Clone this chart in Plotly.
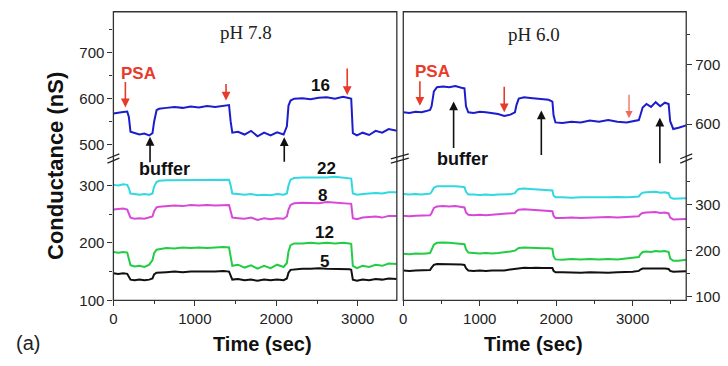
import plotly.graph_objects as go

W, H = 728, 366

# ---------------- data: pH 7.8 panel ----------------
t_left = [0, 60, 120, 170, 190, 210, 260, 320, 380, 440, 480, 500, 530, 560, 650, 750, 850, 950,
          1050, 1150, 1250, 1350, 1420, 1440, 1460, 1530, 1610, 1690, 1770, 1850, 1930, 2010, 2090,
          2130, 2150, 2175, 2220, 2320, 2420, 2520, 2620, 2720, 2820, 2900, 2920, 2940, 2990, 3060,
          3140, 3220, 3300, 3380, 3480]
blue_left = [568, 570, 571, 572, 560, 528, 525, 522, 524, 520, 525, 550, 575, 578, 580, 582, 580, 583,
             581, 584, 582, 585, 586, 550, 526, 528, 522, 530, 518, 526, 520, 527, 522,
             540, 585, 596, 600, 601, 599, 602, 603, 600, 604, 601, 600, 525, 520, 526,
             521, 530, 526, 534, 530]
cyan_left = [301, 300, 302, 301, 295, 286, 285, 284, 285, 284, 286, 298, 306, 308, 309, 309, 310, 309,
             310, 310, 309, 310, 310, 300, 286, 285, 284, 285, 283, 284, 283, 285, 284,
             286, 300, 310, 313, 314, 314, 313, 314, 315, 314, 313, 312, 286, 284, 285,
             286, 287, 286, 288, 288]
magenta_left = [258, 259, 260, 258, 252, 244, 242, 243, 242, 244, 246, 255, 262, 263, 264, 265, 264, 266,
                265, 266, 265, 266, 266, 255, 244, 243, 242, 244, 240, 243, 241, 243, 242,
                246, 258, 266, 269, 270, 270, 269, 271, 270, 270, 269, 268, 243, 241, 244,
                245, 246, 244, 247, 247]
green_left = [184, 183, 184, 183, 172, 161, 159, 160, 158, 162, 170, 182, 188, 189, 191, 190, 192, 191,
              192, 191, 192, 193, 192, 175, 160, 162, 157, 161, 155, 160, 156, 162, 158,
              165, 185, 196, 199, 199, 200, 199, 200, 199, 200, 199, 198, 160, 156, 160,
              158, 162, 160, 164, 163]
black_left = [147, 146, 147, 146, 141, 136, 135, 136, 135, 136, 138, 145, 148, 148, 149, 150, 149, 150,
              150, 149, 150, 151, 150, 143, 136, 137, 135, 136, 134, 136, 135, 136, 135,
              138, 148, 153, 154, 155, 155, 156, 155, 155, 154, 154, 153, 136, 134, 136,
              135, 137, 136, 138, 137]

# ---------------- data: pH 6.0 panel ----------------
t_right = [0, 80, 160, 240, 300, 350, 370, 400, 440, 520, 600, 680, 760, 800, 820, 850, 920, 1000,
           1080, 1160, 1240, 1320, 1400, 1460, 1480, 1510, 1580, 1660, 1740, 1820, 1900, 1950, 1965,
           1990, 2080, 2200, 2320, 2440, 2560, 2680, 2800, 2920, 3000, 3080, 3100, 3130, 3180, 3240,
           3300, 3360, 3420, 3470, 3490, 3530, 3600, 3700]
blue_right = [620, 619, 621, 620, 622, 624, 630, 655, 662, 663, 662, 664, 661, 660, 630, 620, 619, 621,
              620, 619, 617, 614, 616, 620, 632, 643, 645, 644, 643, 641, 641, 638, 615,
              603, 602, 604, 603, 606, 604, 607, 604, 603, 605, 607, 615, 628, 634, 629,
              637, 630, 636, 634, 605, 592, 594, 598]
cyan_right = [323, 322, 323, 322, 323, 324, 328, 337, 340, 340, 341, 340, 339, 338, 328, 322, 322, 321,
              322, 321, 322, 322, 323, 325, 330, 334, 335, 334, 333, 332, 332, 331, 320,
              316, 316, 315, 316, 316, 315, 316, 317, 316, 317, 318, 322, 326, 327, 327,
              328, 326, 327, 325, 316, 313, 313, 314]
magenta_right = [276, 275, 276, 276, 277, 277, 282, 293, 296, 297, 296, 297, 295, 294, 283, 278, 277, 278,
                 277, 278, 278, 279, 280, 282, 286, 289, 290, 289, 289, 288, 287, 286, 276,
                 271, 271, 272, 271, 272, 272, 273, 272, 273, 273, 275, 279, 282, 283, 283,
                 284, 282, 283, 281, 272, 268, 268, 269]
green_right = [193, 192, 194, 193, 194, 195, 202, 213, 217, 218, 217, 216, 216, 214, 203, 196, 195, 194,
               195, 194, 195, 196, 198, 200, 203, 206, 207, 206, 206, 205, 205, 204, 188,
               181, 180, 182, 181, 182, 181, 182, 181, 183, 184, 186, 192, 197, 198, 197,
               199, 198, 199, 197, 183, 178, 178, 180]
black_right = [157, 156, 157, 157, 157, 158, 163, 169, 171, 171, 170, 171, 170, 169, 162, 157, 156, 157,
               156, 157, 157, 157, 159, 160, 161, 162, 163, 162, 163, 162, 163, 162, 156,
               153, 153, 152, 152, 153, 152, 152, 153, 153, 154, 156, 159, 161, 161, 162,
               161, 162, 161, 160, 156, 154, 154, 155]

x_ticks = [0, 1000, 2000, 3000]
low_ticks = [100, 200, 300]
up_ticks_left = [500, 600, 700]
up_ticks_right = [600, 700]
curve_labels = ["16", "22", "8", "12", "5"]

BLUE, CYAN, MAGENTA, GREEN, BLACK = "#1c1ccc", "#30d8e0", "#d848d8", "#22cc44", "#111111"
RED = "#e83a2a"
AX = "#333333"
SANS = "Liberation Sans, Arial, sans-serif"
SERIF = "Liberation Serif, Times New Roman, serif"


def px(x):
    return x / W


def py(y):
    return 1 - y / H


fig = go.Figure()
lw = 2
fig.add_trace(go.Scatter(x=t_left, y=blue_left, xaxis="x", yaxis="y2", mode="lines", line=dict(color=BLUE, width=lw)))
for vals, col in [(cyan_left, CYAN), (magenta_left, MAGENTA), (green_left, GREEN), (black_left, BLACK)]:
    fig.add_trace(go.Scatter(x=t_left, y=vals, xaxis="x", yaxis="y", mode="lines", line=dict(color=col, width=lw)))
fig.add_trace(go.Scatter(x=t_right, y=blue_right, xaxis="x2", yaxis="y4", mode="lines", line=dict(color=BLUE, width=lw)))
for vals, col in [(cyan_right, CYAN), (magenta_right, MAGENTA), (green_right, GREEN), (black_right, BLACK)]:
    fig.add_trace(go.Scatter(x=t_right, y=vals, xaxis="x2", yaxis="y3", mode="lines", line=dict(color=col, width=lw)))

XL0, XL1 = 110, 395
XR0, XR1 = 401.5, 686
YT, YB, YBR = 12, 307, 162
tickfont = dict(family=SANS, size=15, color="#222")

common_x = dict(showgrid=False, zeroline=False, showline=False, ticks="outside", ticklen=5,
                tickcolor=AX, tickwidth=1.2, tickfont=tickfont, tickvals=x_ticks,
                minor=dict(tickvals=[500, 1500, 2500, 3500], ticks="outside", ticklen=3, tickcolor=AX))
common_y = dict(showgrid=False, zeroline=False, showline=False, ticks="outside", ticklen=5,
                tickcolor=AX, tickwidth=1.2, tickfont=tickfont)

fig.update_layout(
    width=W, height=H, margin=dict(l=0, r=0, t=0, b=0),
    paper_bgcolor="white", plot_bgcolor="white", showlegend=False,
    xaxis=dict(domain=[px(XL0), px(XL1)], range=[0, 3480], anchor="y", **common_x),
    xaxis2=dict(domain=[px(XR0), px(XR1)], range=[0, 3700], anchor="y3", **common_x),
    yaxis=dict(domain=[py(YB), py(YBR)], range=[100, 347], anchor="x", tickvals=low_ticks,
               minor=dict(tickvals=[150, 250], ticks="outside", ticklen=3, tickcolor=AX), **common_y),
    yaxis2=dict(domain=[py(YBR), py(YT)], range=[470, 789], anchor="x", tickvals=up_ticks_left,
                minor=dict(tickvals=[550, 650, 750], ticks="outside", ticklen=3, tickcolor=AX), **common_y),
    yaxis3=dict(domain=[py(YB), py(YBR)], range=[92, 400.6], anchor="x2", side="right", tickvals=low_ticks,
                minor=dict(tickvals=[150, 250, 350], ticks="outside", ticklen=3, tickcolor=AX), **common_y),
    yaxis4=dict(domain=[py(YBR), py(YT)], range=[542.6, 788.5], anchor="x2", side="right", tickvals=up_ticks_right,
                minor=dict(tickvals=[650, 750], ticks="outside", ticklen=3, tickcolor=AX), **common_y),
)

shapes = []
for x0, x1 in [(XL0, XL1), (XR0, XR1)]:
    shapes.append(dict(type="rect", xref="paper", yref="paper", x0=px(x0), x1=px(x1), y0=py(YB), y1=py(YT),
                       line=dict(color=AX, width=1.3), fillcolor="rgba(0,0,0,0)"))
for bx, half in [(XL0, 6), (398, 9), (XR1, 6)]:
    for dy in (-2.2, 2.2):
        shapes.append(dict(type="line", xref="paper", yref="paper",
                           x0=px(bx - half), y0=py(YBR + 2.5 + dy), x1=px(bx + half), y1=py(YBR - 2.5 + dy),
                           line=dict(color="#222", width=1.3)))
fig.update_layout(shapes=shapes)

ann = []


def arrow(x, y, xr, yr, ay, color, width=1.6):
    ann.append(dict(x=x, y=y, xref=xr, yref=yr, ax=0, ay=ay, text="", showarrow=True,
                    arrowhead=2, arrowsize=1.1, arrowwidth=width, arrowcolor=color))


# pH 7.8 arrows
arrow(147, 581, "x", "y2", -27, RED)
arrow(1383, 596, "x", "y2", -18, RED)
arrow(2871, 608, "x", "y2", -28, RED)
arrow(450, 517, "x", "y2", 27, "#111")
arrow(2098, 516, "x", "y2", 26, "#111")
# pH 6.0 arrows
arrow(217, 631, "x2", "y4", -26, RED)
arrow(1320, 620, "x2", "y4", -27, RED)
arrow(2952, 610, "x2", "y4", -25, "#ee6a5a", 1.3)
arrow(658, 638, "x2", "y4", 48, "#111")
arrow(1805, 623, "x2", "y4", 46, "#111")
arrow(3355, 611, "x2", "y4", 47, "#111")


def text(s, x, y, size, color="#111", bold=True, family=SANS, angle=0):
    ann.append(dict(x=px(x), y=py(y), xref="paper", yref="paper", showarrow=False,
                    text=f"<b>{s}</b>" if bold else s, textangle=angle,
                    font=dict(family=family, size=size, color=color), xanchor="center", yanchor="middle"))


text("pH 7.8", 243, 33, 19, "#222", bold=False, family=SERIF)
text("pH 6.0", 533, 35, 19, "#222", bold=False, family=SERIF)
text("PSA", 135, 75, 17, RED)
text("PSA", 431, 73, 17, RED)
text("buffer", 161, 173, 18)
text("buffer", 461, 163, 18)
for s, (lx, ly) in zip(curve_labels, [(318, 87), (324, 172), (320, 200), (322, 238), (322, 267)]):
    text(s, lx, ly, 17)
text("Conductance (nS)", 52, 170, 22, angle=-90)
text("Time (sec)", 260, 352, 20)
text("Time (sec)", 532, 352, 20)
text("(a)", 24, 351, 20, "#222", bold=False)
fig.update_layout(annotations=ann)

fig.write_html("out.html")
